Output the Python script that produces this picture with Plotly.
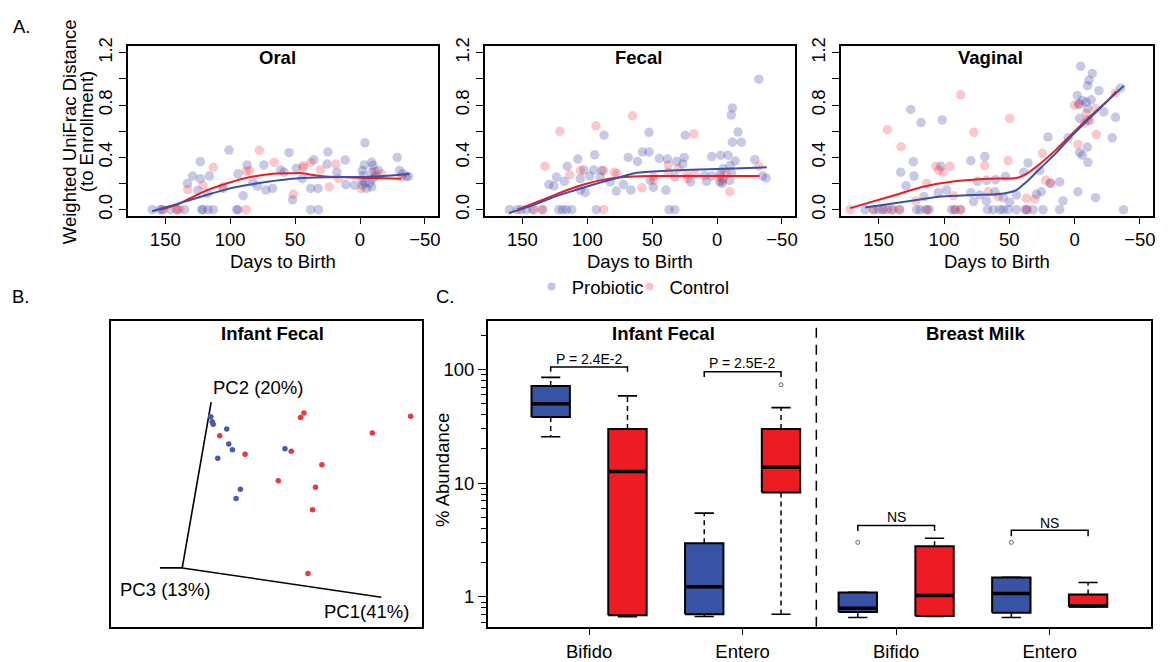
import plotly.graph_objects as go

W, H = 1168, 662
FONT = "Liberation Sans, Arial, Helvetica, sans-serif"
FS = 18.5
BLUE = "#3953A4"
RED = "#ED1C24"
PRO_PT = "rgba(57,65,160,0.28)"
CTL_PT = "rgba(240,40,50,0.25)"

# ---------------- Panel A data (days to birth, weighted UniFrac distance) ----------------
oral_pro_day = [160, 154, 152, 146, 141, 135, 122, 121, 117, 113, 95, 94, 38, 32,
                101, 123, 129, 133, 123, 125, 116, 117.5, 105.5, 94, 90, 87, 82.6, 74, 79, 72.5,
                67.4, 61, 58.5, 54.7, 52, 49, 44.5, 38, 35.6, 32.3, 25.4, 24.7, 17.8, 11.4, 10.9,
                4.3, -3.8, -3.3, -1.8, -2.5, -1.8, -1.8, -3.8, -9, -10, -9, -10, -7.6, -9, -5,
                -14, -12, -28.7, -30.5, -33, -35.6, -37.4]
oral_pro_dist = [0, 0, 0, 0, 0, 0, 0, 0, 0, 0, 0, 0, 0, 0,
                 0.456, 0.367, 0.257, 0.20, 0.237, 0.147, 0.257, 0.125, 0.162, 0.274, 0.107, 0.342, 0.212, 0.342, 0.18, 0.15,
                 0.162, 0.304, 0.287, 0.436, 0.075, 0.317, 0.237, 0.162, 0.381, 0.162, 0.349, 0.441, 0.287, 0.379, 0.192,
                 0.187, 0.511, 0.342, 0.30, 0.262, 0.225, 0.187, 0.207, 0.362, 0.337, 0.287, 0.237, 0.20, 0.175, 0.162,
                 0.30, 0.26, 0.399, 0.30, 0.274, 0.254, 0.254]
oral_ctl_day = [152, 141, 139, 87.7, 77.5, 66, 113, 121, 132.7, 105.5, 87.7, 51.4, 43.7, 38, 30.5,
                23.6, 18.6, 16.5, -11.4, -16.5, -1, -31.8, 85, 44]
oral_ctl_dist = [0, 0, 0, 0, 0.454, 0.361, 0.324, 0.187, 0.155, 0.174, 0.294, 0.117, 0.336, 0.361, 0.304,
                 0.174, 0.349, 0.237, 0.292, 0.274, 0.16, 0.25, 0.30, 0.32]
oral_fit_pro_day = [160.2, 150, 141.1, 128.4, 115.7, 103, 90.3, 77.5, 64.8, 52.1, 39.4, 26.7, 14, 1.3, -11.4, -24.2, -38.1]
oral_fit_pro = [-0.012, 0.017, 0.042, 0.082, 0.12, 0.155, 0.182, 0.204, 0.222, 0.237, 0.244, 0.247, 0.249, 0.249, 0.254, 0.262, 0.272]
oral_fit_ctl_day = [153.8, 141.1, 128.4, 115.7, 103, 90.3, 77.5, 64.8, 52.1, 44.5, 36.9, 26.7, 14, 1.3, -11.4, -31.8]
oral_fit_ctl = [0, 0.037, 0.10, 0.157, 0.20, 0.237, 0.262, 0.277, 0.279, 0.279, 0.267, 0.254, 0.249, 0.244, 0.242, 0.237]

fecal_pro_day = [160, 154, 151, 147, 142, 135, 122, 119, 116, 112, 93, 37, 32.5,
                 -32.2, -11.8, -11, -16.1, -11.8, -18.7, -29.1, -37.8, -35, 4.1, -2.8, -8.4, -14, -10, -4.6, -2.6,
                 -4.6, -9.7, -11, -2, -4, 52.4, 24.5, 87.1, 57.5, 52.4, 68.5, 61.3, 44.5, 38.3, 31.2, 25.3, 26.5,
                 94.3, 107.3, 115.5, 123.7, 129.6, 125.7, 117.6, 105.3, 102.7, 95, 88.7, 90, 98.1, 105.3, 101.5,
                 82.3, 77.7, 72.1, 66.4, 51.6, 49.1, 39.4, 32.5, 20.4, 9.5, 8.2, 4.1]
fecal_pro_dist = [0, 0, 0, 0, 0, 0, 0, 0, 0, 0, 0, 0, 0,
                  0.998, 0.778, 0.723, 0.593, 0.516, 0.516, 0.382, 0.242, 0.257, 0.406, 0.416, 0.416, 0.372, 0.337, 0.312, 0.274,
                  0.237, 0.224, 0.282, 0.212, 0.20, 0.591, 0.569, 0.569, 0.441, 0.441, 0.399, 0.369, 0.392, 0.387, 0.369, 0.399, 0.35,
                  0.419, 0.387, 0.332, 0.249, 0.192, 0.182, 0.217, 0.237, 0.304, 0.304, 0.299, 0.249, 0.257, 0.15, 0.132,
                  0.212, 0.142, 0.192, 0.15, 0.224, 0.17, 0.15, 0.249, 0.212, 0.262, 0.217, 0.257]
fecal_ctl_day = [141, 87.4, 134, 65.2, 121.1, 93.3, 17.9, 132.6, 113.5, 105.3, 87.4, 79.2, 77, 57.8, 37.6,
                 29.9, 37.6, 23.5, 17.1, -9.7, -32.2, -7.2, -4, 49, 49, 22.6, -2]
fecal_ctl_dist = [0, 0, 0, 0.718, 0.599, 0.641, 0.579, 0.332, 0.267, 0.299, 0.299, 0.287, 0.274, 0.167, 0.342,
                  0.312, 0.287, 0.267, 0.274, 0.137, 0.332, 0.274, 0.22, 0.224, 0.254, 0.237, 0.25]
fecal_fit_pro_day = [160.2, 141.1, 128.3, 115.5, 102.7, 90, 77.2, 61.8, 38.8, 13.3, -12.3, -38.3]
fecal_fit_pro = [-0.025, 0.037, 0.087, 0.13, 0.17, 0.207, 0.242, 0.282, 0.297, 0.307, 0.314, 0.324]
fecal_fit_ctl_day = [153.8, 141.1, 128.3, 115.5, 102.7, 90, 77.2, 64.4, 51.6, 26.1, 0.5, -32.7]
fecal_fit_ctl = [0, 0.05, 0.10, 0.15, 0.192, 0.224, 0.244, 0.254, 0.257, 0.257, 0.257, 0.257]

vag_pro_day = [160.4, 154, 150.2, 146.9, 143.4, 140, 134.2, 121, 118.4, 113.8, 111.3, 94.2, 91.7, 87.3, 66.7,
               62.4, 57.3, 54.7, 50.9, 44.6, 37.7, 36.4, 31.8, 24.2, 11.5, -37.4,
               125.5, 117.6, 101.4, 123.5, 133.2, 123, 129.1, 115.4, 104.4, 102.4, 98, 79.5, 68.8, 74.4, 67.5,
               60.6, 53, 79.5, 72.6, 77.4, 67.5, 61.1, 54.7, 49.7, 44.6, 39, 35.7, 29.3, 26.7, 20.4, 25.5, 18.6,
               11.5, 8.9, -2.5, -4.6, -13.5, -10.9, -9.9, -18.6, -2, -5.9, -8.9, -12.7, -3.3, -9.9, -3.8, -10.2,
               -22.4, -31.3, -28.8, -9.7, -3.8, -5.9, -10.2, -16, -35.1, 5]
vag_pro_dist = [0, 0, 0, 0, 0, 0, 0, 0, 0, 0, 0, 0, 0, 0, 0,
                0, 0, 0, 0, 0, 0, 0, 0, 0, 0, 0,
                0.766, 0.666, 0.686, 0.367, 0.287, 0.257, 0.182, 0.10, 0.13, 0.332, 0.15, 0.374, 0.406, 0.217, 0.224,
                0.229, 0.254, 0.13, 0.112, 0.062, 0.067, 0.137, 0.092, 0.057, 0.112, 0.287, 0.357, 0.117, 0.299, 0.556, 0.137, 0.20,
                0.212, 0.067, 0.137, 1.097, 1.042, 0.99, 0.948, 0.91, 0.873, 0.835, 0.823, 0.84, 0.81, 0.773, 0.698, 0.686,
                0.748, 0.706, 0.549, 0.479, 0.436, 0.416, 0.362, 0.092, 0.93, 0.55]
vag_ctl_day = [171.9, 154, 146.4, 139, 134, 112.8, 91.7, 87.3, 36.9,
               143.4, 132.9, 87.3, 77.2, 49.7, 106.2, 100.6, 95.5, 113.3, 121.5, 92.9, 68.8, 66.2, 50.9, 58.6,
               36.9, 30.6, 24.7, 22.2, 18.6, -2.5, 0, -3.3, -8.9, -16, -16.6, -31.3, -7.6, -11.8, 104]
vag_ctl_dist = [0, 0, 0, 0, 0, 0, 0, 0, 0,
                0.611, 0.481, 0.878, 0.591, 0.698, 0.332, 0.287, 0.332, 0.20, 0.067, 0.107, 0.337, 0.137, 0.374, 0.10,
                0.087, 0.08, 0.431, 0.224, 0.204, 0.499, 0.798, 0.805, 0.736, 0.773, 0.574, 0.893, 0.661, 0.68, 0.30]
vag_fit_pro_day = [160.4, 130, 103.1, 77.7, 57.3, 44.6, 36.9, 26.7, 14, 1.3, -11.5, -24.2, -37.7]
vag_fit_pro = [0.017, 0.06, 0.10, 0.112, 0.12, 0.15, 0.212, 0.312, 0.436, 0.574, 0.698, 0.823, 0.948]
vag_fit_ctl_day = [171.9, 141.3, 115.9, 90.4, 64.9, 44.6, 36.9, 26.7, 14, 1.3, -11.5, -24.2, -31.8]
vag_fit_ctl = [0.012, 0.10, 0.175, 0.219, 0.237, 0.242, 0.274, 0.349, 0.461, 0.586, 0.711, 0.823, 0.905]

day_ticks = [150, 100, 50, 0, -50]
dist_ticks = [0, 0.2, 0.4, 0.6, 0.8, 1.0, 1.2]
dist_tick_text = ["0.0", "", "0.4", "", "0.8", "", "1.2"]
panel_a_titles = ["Oral", "Fecal", "Vaginal"]

# ---------------- Panel B data (projected PCoA coordinates) ----------------
pcoa_pro_x = [32.15, 32.6, 32.92, 37.28, 37.92, 39.1, 34.39, 55.99, 41.67, 40.29]
pcoa_pro_y = [68.69, 67.08, 66.25, 64.74, 59.84, 57.92, 55.13, 58.24, 44.97, 41.99]
pcoa_ctl_x = [62.08, 60.99, 96.38, 84.07, 35.03, 43.17, 58.01, 67.85, 53.85, 65.8, 64.84, 63.37]
pcoa_ctl_y = [69.97, 68.49, 68.91, 63.37, 62.5, 56.41, 57.47, 52.98, 47.76, 45.61, 38.24, 17.4]
# projected PC axes: origin and axis end points
pc_origin = (22.98, 19.23)
pc_axis_end_x = [86.96, 32.28, 15.8]   # PC1, PC2, PC3
pc_axis_end_y = [9.62, 73.49, 19.23]
pc_axis_labels = ["PC1(41%)", "PC2 (20%)", "PC3 (13%)"]

# ---------------- Panel C data (% abundance box statistics) ----------------
box_sample = ["Infant Fecal"] * 4 + ["Breast Milk"] * 4
box_taxon = ["Bifido", "Bifido", "Entero", "Entero"] * 2
box_group = ["Probiotic", "Control"] * 4
box_low = [25.6, 0.67, 0.673, 0.705, 0.66, 0.675, 0.66, 0.82]
box_q1 = [38.3, 0.69, 0.705, 8.28, 0.738, 0.68, 0.728, 0.82]
box_med = [50.0, 12.7, 1.23, 13.8, 0.794, 1.03, 1.07, 0.835]
box_q3 = [71.4, 30.0, 2.97, 29.9, 1.097, 2.79, 1.486, 1.05]
box_high = [85.3, 58.6, 5.46, 46.2, 1.097, 3.28, 1.486, 1.34]
outlier_box = [3, 4, 6]          # index of the box each outlier belongs to
outlier_val = [73.3, 3.02, 3.02]
cat_labels = ["Bifido", "Entero", "Bifido", "Entero"]
p_labels = ["P = 2.4E-2", "P = 2.5E-2", "NS", "NS"]

fig = go.Figure()

# ---------------- Panel A ----------------
a_domains = [(128, 439), (486, 797), (843, 1156)]
a_sets = [
    (oral_pro_day, oral_pro_dist, oral_ctl_day, oral_ctl_dist, oral_fit_pro_day, oral_fit_pro, oral_fit_ctl_day, oral_fit_ctl),
    (fecal_pro_day, fecal_pro_dist, fecal_ctl_day, fecal_ctl_dist, fecal_fit_pro_day, fecal_fit_pro, fecal_fit_ctl_day, fecal_fit_ctl),
    (vag_pro_day, vag_pro_dist, vag_ctl_day, vag_ctl_dist, vag_fit_pro_day, vag_fit_pro, vag_fit_ctl_day, vag_fit_ctl),
]
for i, (pd_, pv, cd, cv, fpd, fpv, fcd, fcv) in enumerate(a_sets):
    xa = "x" if i == 0 else f"x{i+1}"
    ya = "y" if i == 0 else f"y{i+1}"
    fig.add_trace(go.Scatter(x=pd_, y=pv, mode="markers", xaxis=xa, yaxis=ya, showlegend=False,
                             marker=dict(size=9.5, color=PRO_PT, line=dict(width=0))))
    fig.add_trace(go.Scatter(x=cd, y=cv, mode="markers", xaxis=xa, yaxis=ya, showlegend=False,
                             marker=dict(size=9.5, color=CTL_PT, line=dict(width=0))))
    fig.add_trace(go.Scatter(x=fcd, y=fcv, mode="lines", xaxis=xa, yaxis=ya, showlegend=False,
                             line=dict(color=RED, width=2, shape="spline", smoothing=0.6)))
    fig.add_trace(go.Scatter(x=fpd, y=fpv, mode="lines", xaxis=xa, yaxis=ya, showlegend=False,
                             line=dict(color=BLUE, width=2, shape="spline", smoothing=0.6)))

# legend entries (two legends so they sit close together like the original)
fig.add_trace(go.Scatter(x=[None], y=[None], mode="markers", name="Probiotic", legend="legend",
                         marker=dict(size=8, color="rgba(57,65,160,0.3)")))
fig.add_trace(go.Scatter(x=[None], y=[None], mode="markers", name="Control", legend="legend2",
                         marker=dict(size=8, color="rgba(240,40,50,0.28)")))

# ---------------- Panel B ----------------
ax_x, ax_y = [], []
for ex, ey in zip(pc_axis_end_x, pc_axis_end_y):
    ax_x += [pc_origin[0], ex, None]
    ax_y += [pc_origin[1], ey, None]
fig.add_trace(go.Scatter(x=ax_x, y=ax_y, mode="lines", xaxis="x4", yaxis="y4", showlegend=False,
                         line=dict(color="black", width=1.6)))
fig.add_trace(go.Scatter(x=pcoa_pro_x, y=pcoa_pro_y, mode="markers", xaxis="x4", yaxis="y4", showlegend=False,
                         marker=dict(size=5.5, color="#4B5BAA")))
fig.add_trace(go.Scatter(x=pcoa_ctl_x, y=pcoa_ctl_y, mode="markers", xaxis="x4", yaxis="y4", showlegend=False,
                         marker=dict(size=5.5, color="#E8383D")))

# ---------------- Panel C ----------------
HW, CW = 0.25, 0.125
wx, wy, cx, cy, mx, my = [], [], [], [], [], []
poly = {"Probiotic": ([], []), "Control": ([], [])}
for i in range(len(box_q1)):
    p = i + 1
    wx += [p, p, None, p, p, None]
    wy += [box_q3[i], box_high[i], None, box_q1[i], box_low[i], None]
    cx += [p - CW, p + CW, None, p - CW, p + CW, None]
    cy += [box_high[i], box_high[i], None, box_low[i], box_low[i], None]
    mx += [p - HW, p + HW, None]
    my += [box_med[i], box_med[i], None]
    px_, py_ = poly[box_group[i]]
    px_ += [p - HW, p + HW, p + HW, p - HW, p - HW, None]
    py_ += [box_q1[i], box_q1[i], box_q3[i], box_q3[i], box_q1[i], None]

fig.add_trace(go.Scatter(x=wx, y=wy, mode="lines", xaxis="x5", yaxis="y5", showlegend=False,
                         line=dict(color="black", width=1.5, dash="5px,4px")))
fig.add_trace(go.Scatter(x=cx, y=cy, mode="lines", xaxis="x5", yaxis="y5", showlegend=False,
                         line=dict(color="black", width=1.6)))
for grp, col in (("Probiotic", BLUE), ("Control", RED)):
    fig.add_trace(go.Scatter(x=poly[grp][0], y=poly[grp][1], mode="lines", fill="toself", fillcolor=col,
                             xaxis="x5", yaxis="y5", showlegend=False, line=dict(color="black", width=2)))
fig.add_trace(go.Scatter(x=mx, y=my, mode="lines", xaxis="x5", yaxis="y5", showlegend=False,
                         line=dict(color="black", width=3.5)))
fig.add_trace(go.Scatter(x=[b + 1 for b in outlier_box], y=outlier_val, mode="markers", xaxis="x5", yaxis="y5",
                         showlegend=False, marker=dict(symbol="circle-open", size=4, color="#666", line=dict(width=1))))

# significance brackets: (left box, right box, top, leg end)
brackets = [(1, 2, 105, 95.3), (3, 4, 95.3, 85.9), (5, 6, 4.25, 3.8), (7, 8, 3.85, 3.42)]
bx, by = [], []
for l, r, top, leg in brackets:
    bx += [l, l, r, r, None]
    by += [leg, top, top, leg, None]
fig.add_trace(go.Scatter(x=bx, y=by, mode="lines", xaxis="x5", yaxis="y5", showlegend=False,
                         line=dict(color="black", width=1.5)))

# ---------------- Layout ----------------
def dom_x(a, b):
    return [a / W, b / W]

def dom_y(top, bottom):
    return [1 - bottom / H, 1 - top / H]

axis_common = dict(showgrid=False, zeroline=False, showline=True, mirror=True, linecolor="black", linewidth=1.5,
                   tickfont=dict(family=FONT, size=FS, color="black"), tickcolor="black", tickwidth=1.3)

leg_common = dict(orientation="h", xanchor="left", y=1 - 284 / H, yanchor="middle",
                  font=dict(family=FONT, size=FS), itemwidth=30, bgcolor="rgba(0,0,0,0)")
layout = dict(
    width=W, height=H, margin=dict(l=0, r=0, t=0, b=0),
    paper_bgcolor="white", plot_bgcolor="white",
    font=dict(family=FONT, size=FS, color="black"),
    legend=dict(leg_common, x=533 / W),
    legend2=dict(leg_common, x=631 / W),
)
for i, (a, b) in enumerate(a_domains):
    sx = "" if i == 0 else str(i + 1)
    layout[f"xaxis{sx}"] = dict(axis_common, domain=dom_x(a, b), range=[179, -60], tickvals=day_ticks,
                               ticks="outside", ticklen=7, anchor=f"y{sx}")
    layout[f"yaxis{sx}"] = dict(axis_common, domain=dom_y(38, 211), range=[-0.045, 1.25], tickvals=dist_ticks,
                               ticktext=dist_tick_text, ticks="outside", ticklen=7, tickangle=-90, anchor=f"x{sx}")

layout["xaxis4"] = dict(axis_common, domain=dom_x(111, 423), range=[0, 100], showticklabels=False, ticks="",
                        anchor="y4")
layout["yaxis4"] = dict(axis_common, domain=dom_y(319, 631), range=[0, 100], showticklabels=False, ticks="",
                        anchor="x4")
layout["xaxis5"] = dict(axis_common, domain=dom_x(489, 1154), range=[0.18, 8.82], tickvals=[1.5, 3.5, 5.5, 7.5],
                        ticktext=cat_labels, ticks="outside", ticklen=7, anchor="y5")
layout["yaxis5"] = dict(axis_common, domain=dom_y(319, 631), type="log", range=[-0.261, 2.424],
                        tickvals=[1, 10, 100], ticktext=["1", "10", "100"], ticks="outside", ticklen=8,
                        minor=dict(tickmode="array",
                                   tickvals=[0.6, 0.7, 0.8, 0.9, 2, 3, 4, 5, 6, 7, 8, 9,
                                             20, 30, 40, 50, 60, 70, 80, 90, 200],
                                   ticks="outside", ticklen=5, tickcolor="black", showgrid=False),
                        anchor="x5")

def ann(text, x, y, size=FS, angle=0, xanchor="center", yanchor="middle", xref="paper", yref="paper"):
    if xref == "paper":
        x = x / W
    if yref == "paper":
        y = 1 - y / H
    return dict(text=text, x=x, y=y, xref=xref, yref=yref, showarrow=False, textangle=angle,
                xanchor=xanchor, yanchor=yanchor, font=dict(family=FONT, size=size, color="black"))

annotations = [
    ann("A.", 11, 18, xanchor="left"),
    ann("B.", 10, 294, xanchor="left"),
    ann("C.", 435, 294, xanchor="left"),
    ann("Weighted UniFrac Distance", 70, 125, angle=-90),
    ann("(to Enrollment)", 87, 125, angle=-90),
    ann("% Abundance", 443, 471, angle=-90),
    ann("<b>Infant Fecal</b>", 273, 331),
    ann("<b>Infant Fecal</b>", 665.5, 331),
    ann("<b>Breast Milk</b>", 978, 331),
]
for t, cx_ in zip(panel_a_titles, [278.5, 640, 993]):
    annotations.append(ann(f"<b>{t}</b>", cx_, 50))
for a, b in a_domains:
    annotations.append(ann("Days to Birth", (a + b) / 2, 258))
# PCoA axis labels near axis ends
pc_label_pos = [(82.1, 4.8), (47.4, 78.2), (17.3, 12.2)]
for lab, (lx, ly) in zip(pc_axis_labels, pc_label_pos):
    annotations.append(ann(lab, lx, ly, xref="x4", yref="y4"))
# p-value labels
p_text_y = [2.095, 2.054, 0.70, 0.649]
for lab, (l, r, top, leg), ty in zip(p_labels, brackets, p_text_y):
    annotations.append(ann(lab, (l + r) / 2, ty, size=14, xref="x5", yref="y5"))
layout["annotations"] = annotations

layout["shapes"] = [dict(type="line", xref="x5", yref="paper", x0=4.46, x1=4.46,
                         y0=1 - 631 / H, y1=1 - 319 / H, line=dict(color="black", width=1.5, dash="10px,7px"))]

fig.update_layout(**layout)
fig.write_html("out.html")
